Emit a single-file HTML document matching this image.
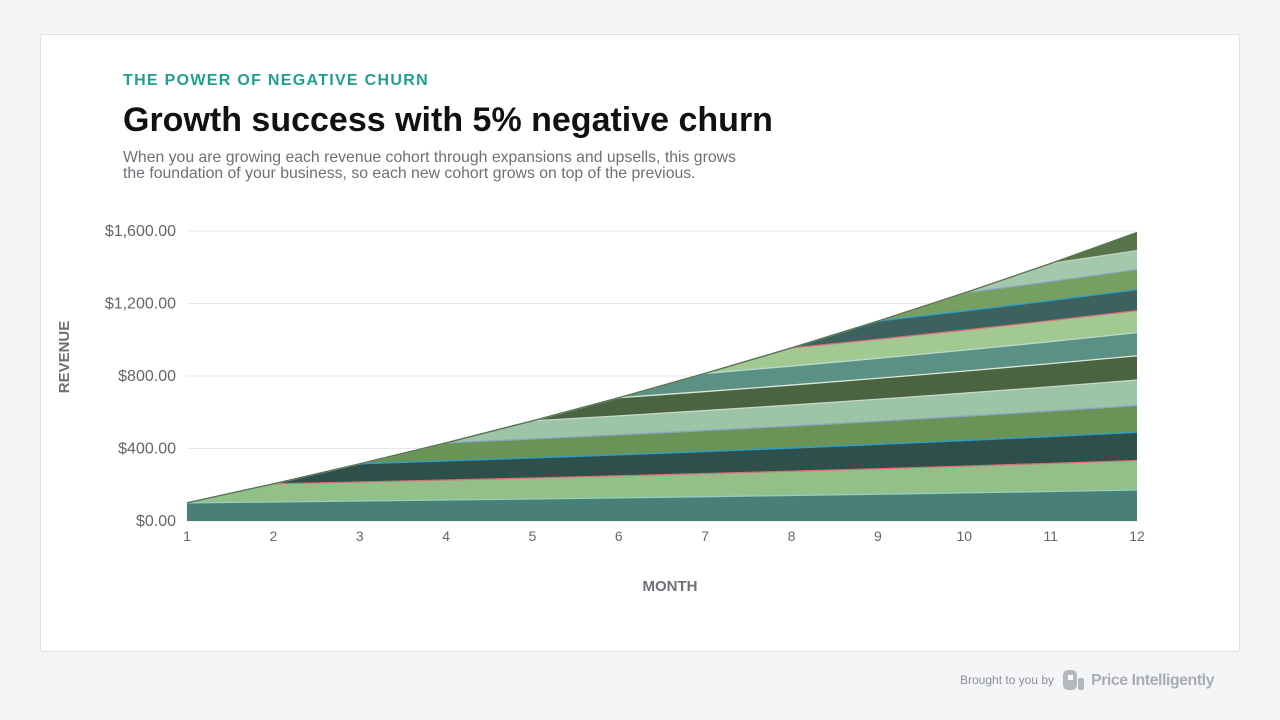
<!DOCTYPE html>
<html><head><meta charset="utf-8"><style>
body{margin:0;width:1280px;height:720px;background:#f4f5f7;font-family:"Liberation Sans",sans-serif;position:relative;overflow:hidden}
.card{position:absolute;left:40px;top:34px;width:1198px;height:616px;background:#fff;border:1px solid #dde0e4;border-radius:3px}
.k{position:absolute;left:123px;top:72px;color:#1fa08e;font-size:16px;font-weight:bold;letter-spacing:1.3px}
h1{position:absolute;left:123px;top:101px;margin:0;font-size:34px;font-weight:bold;color:#111}
.d{position:absolute;left:123px;top:150px;font-size:15.8px;color:#6b7177;line-height:16px;width:640px}
.f{position:absolute;left:960px;top:673px;font-size:12px;color:#8a8f95}
.p{position:absolute;left:1091px;top:672px;font-size:16px;font-weight:bold;color:#a9adb2;letter-spacing:-0.5px}
</style></head><body>
<div class="card"></div>
<div class="k">THE POWER OF NEGATIVE CHURN</div>
<h1>Growth success with 5% negative churn</h1>
<div class="d">When you are growing each revenue cohort through expansions and upsells, this grows<br>the foundation of your business, so each new cohort grows on top of the previous.</div>
<div class="f">Brought to you by</div>
<svg style="position:absolute;left:1062px;top:669px" width="26" height="24"><rect x="1" y="1" width="14" height="20" rx="5" fill="#b5b9bd"/><rect x="16" y="9" width="6" height="12" rx="2" fill="#b5b9bd"/><rect x="6" y="6" width="5" height="5" fill="#fff"/></svg>
<div class="p">Price Intelligently</div>
<svg id="c" style="position:absolute;left:0;top:0" width="1280" height="720" font-family="Liberation Sans, sans-serif"></svg>
<script>
var s=document.getElementById('c'),h='';
function X(m){return 187+(m-1)*950/11}
function Y(v){return 521-v*290/1600}
[0,400,800,1200,1600].forEach(function(v,i){h+='<line x1="187" x2="1137" y1="'+Y(v)+'" y2="'+Y(v)+'" stroke="#e6e8ea"/>';
h+='<text x="176" y="'+(Y(v)+5)+'" text-anchor="end" font-size="16" fill="#62676d">$'+(v?v.toLocaleString('en-US'):'0')+'.00</text>'});
for(var m=1;m<=12;m++)h+='<text x="'+X(m)+'" y="541" text-anchor="middle" font-size="14" fill="#62676d">'+m+'</text>';
var cols=['#4a7f77','#93bf88','#2e4f4a','#6a9358','#9cc4a6','#4a6341','#5a9184','#a3c993','#3c625f','#779f62','#a3c8ad','#57744b'];
var lines=['#8fd3c0','#d9707a','#2aa0d0','#8aa6c0','#c8d8cc','#dfe8d8','#b8dccd','#d9707a','#2aa0d0','#8aa6c0','#c0d4c4','#57744b'];
var cum=[];for(m=1;m<=12;m++)cum[m]=0;
var polys='',ls='';
for(var k=1;k<=12;k++){var lo=[],hi=[];
for(m=1;m<=12;m++){var v=m>=k?100*Math.pow(1.05,m-k):0;lo.push(X(m)+','+Y(cum[m]));cum[m]+=v;hi.push(X(m)+','+Y(cum[m]));}
polys+='<polygon fill="'+cols[k-1]+'" points="'+hi.join(' ')+' '+lo.reverse().join(' ')+'"/>';
ls+='<polyline fill="none" stroke="'+lines[k-1]+'" stroke-width="1.3" points="'+hi.join(' ')+'"/>';}
h+=polys+ls;
h+='<text x="670" y="591" text-anchor="middle" font-size="15" font-weight="bold" fill="#6b7177">MONTH</text>';
h+='<text transform="translate(69,357) rotate(-90)" text-anchor="middle" font-size="15" font-weight="bold" fill="#6b7177">REVENUE</text>';
s.innerHTML=h;
</script>
</body></html>
